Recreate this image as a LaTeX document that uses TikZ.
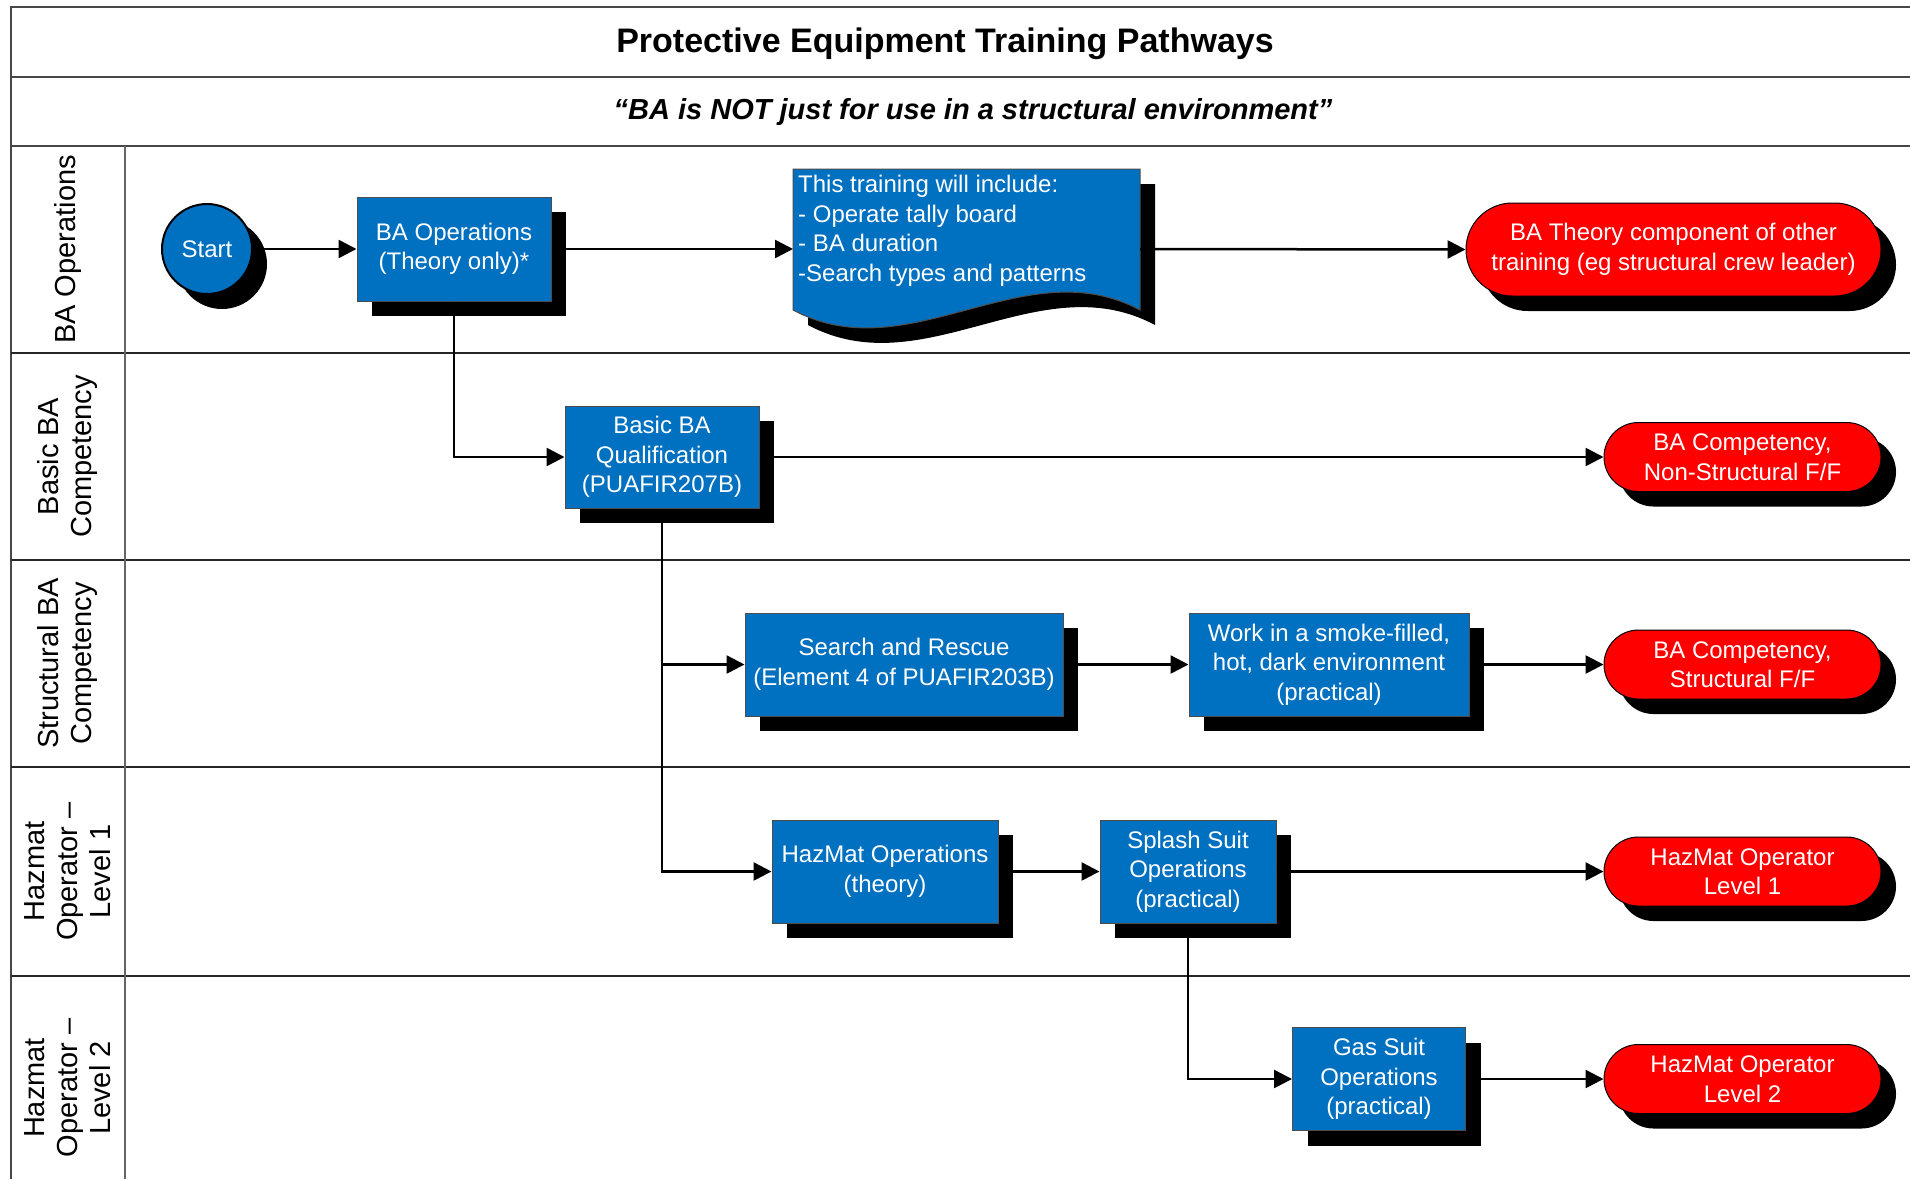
\documentclass[tikz,border=0pt]{standalone}
\usepackage{fontspec}
\setmainfont{Liberation Sans}
\usetikzlibrary{arrows.meta,shadows}
\definecolor{boxblue}{HTML}{0070C0}
\definecolor{termred}{HTML}{FF0000}
\begin{document}
\begin{tikzpicture}[x=1pt,y=-1pt,
  shad/.style={drop shadow={shadow xshift=15pt,shadow yshift=-15pt,fill=black,opacity=1}},
  bodyfont/.style={font=\fontsize{24}{29.5}\selectfont},
  bluebox/.style={shad,rectangle,fill=boxblue,draw=black!70,line width=1pt,text=white,align=center,inner sep=0pt,bodyfont},
  term/.style={shad,rectangle,rounded corners=34.5pt,fill=termred,draw=black,line width=1pt,text=white,align=center,minimum width=277pt,minimum height=69pt,inner sep=0pt,bodyfont},
  conn/.style={line width=2.5pt,-{Triangle[length=18pt,width=18pt]}},
  lanelabel/.style={rotate=90,align=center,inner sep=0pt,font=\fontsize{29}{33}\selectfont},
  frameline/.style={line width=2pt,draw=black!72},
  laneline/.style={line width=2pt,draw=black!85},
]
\fill[white] (0,0) rectangle (1910,1179);
\useasboundingbox (0,0) rectangle (1910,1179);

% frame and lanes
\draw[frameline] (11,1179) -- (11,7) -- (1910,7);
\draw[frameline] (11,77) -- (1910,77);
\draw[frameline] (11,146) -- (1910,146);
\draw[laneline] (11,353) -- (1910,353);
\draw[laneline] (11,560) -- (1910,560);
\draw[laneline] (11,767) -- (1910,767);
\draw[laneline] (11,976) -- (1910,976);
\draw[line width=1.5pt,draw=black!60] (125,146) -- (125,1179);

% title texts
\node[font=\bfseries\fontsize{34}{40}\selectfont,anchor=base,inner sep=0pt] (title) at (945,52) {Protective Equipment Training Pathways};
\node[font=\bfseries\itshape\fontsize{29}{34}\selectfont,anchor=base,inner sep=0pt] (subtitle) at (973,119) {“BA is NOT just for use in a structural environment”};

% lane labels
\node[lanelabel] (l1) at (68,249.5) {BA Operations};
\node[lanelabel] (l2) at (68,456.5) {Basic BA\\Competency};
\node[lanelabel] (l3) at (68,663.5) {Structural BA\\Competency};
\node[lanelabel] (l4) at (68,871.5) {Hazmat\\Operator --\\Level 1};
\node[lanelabel] (l5) at (68,1088) {Hazmat\\Operator --\\Level 2};

% nodes
\node[shad,circle,fill=boxblue,draw=black,line width=2pt,minimum size=90pt,inner sep=0pt,text=white,bodyfont] (start) at (207,249) {Start};
\node[bluebox,minimum width=194pt,minimum height=104pt] (baops) at (454,249) {BA Operations\\(Theory only)*};

% document shape
\coordinate (doc) at (966.5,249);
\coordinate (docw) at (793,249);
\coordinate (doce) at (1140,249);
\fill[black,xshift=15pt,yshift=-15pt] (793,169) -- (1140,169) -- (1140,310) .. controls (1024,248) and (909,372) .. (793,310) -- cycle;
\filldraw[fill=boxblue,draw=black!70,line width=1pt] (793,169) -- (1140,169) -- (1140,310) .. controls (1024,248) and (909,372) .. (793,310) -- cycle;
\node[anchor=north west,text=white,align=left,inner sep=0pt,bodyfont] (doctext) at (798,175) {This training will include:\\- Operate tally board\\- BA duration\\-Search types and patterns};

\node[shad,rectangle,rounded corners=46.5pt,fill=termred,draw=black,line width=1pt,text=white,align=center,minimum width=415pt,minimum height=93pt,inner sep=0pt,bodyfont] (bath) at (1673.5,249.5) {BA Theory component of other\\training (eg structural crew leader)};

\node[bluebox,minimum width=194pt,minimum height=102pt] (basic) at (662,457) {Basic BA\\Qualification\\(PUAFIR207B)};
\node[term] (t2) at (1742.5,457) {BA Competency,\\Non-Structural F/F};

\node[bluebox,minimum width=318pt,minimum height=103pt] (sar) at (904,664.5) {Search and Rescue\\(Element 4 of PUAFIR203B)};
\node[bluebox,minimum width=280pt,minimum height=103pt] (work) at (1329,664.5) {Work in a smoke-filled,\\hot, dark environment\\(practical)};
\node[term] (t3) at (1742.5,664.5) {BA Competency,\\Structural F/F};

\node[bluebox,minimum width=226pt,minimum height=103pt] (hzo) at (885,871.5) {HazMat Operations\\(theory)};
\node[bluebox,minimum width=176pt,minimum height=103pt] (splash) at (1188,871.5) {Splash Suit\\Operations\\(practical)};
\node[term] (t4) at (1742.5,871.5) {HazMat Operator\\Level 1};

\node[bluebox,minimum width=173pt,minimum height=103pt] (gas) at (1379,1079) {Gas Suit\\Operations\\(practical)};
\node[term] (t5) at (1742.5,1079) {HazMat Operator\\Level 2};

% connectors
\draw[conn] (start.east) -- (baops.west);
\draw[conn] (baops.east) -- (docw);
\draw[conn] (doce) -- (bath.west);
\draw[conn] (baops.south) |- (basic.west);
\draw[conn] (basic.east) -- (t2.west);
\draw[conn] (basic.south) |- (sar.west);
\draw[conn] (basic.south) |- (hzo.west);
\draw[conn] (sar.east) -- (work.west);
\draw[conn] (work.east) -- (t3.west);
\draw[conn] (hzo.east) -- (splash.west);
\draw[conn] (splash.east) -- (t4.west);
\draw[conn] (splash.south) |- (gas.west);
\draw[conn] (gas.east) -- (t5.west);
\end{tikzpicture}
\end{document}
